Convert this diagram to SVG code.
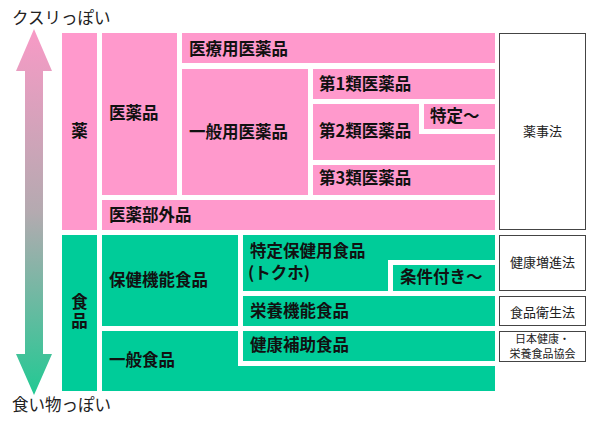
<svg xmlns="http://www.w3.org/2000/svg" width="600" height="421" viewBox="0 0 600 421">
<defs>
<linearGradient id="arrowGrad" x1="0" y1="29" x2="0" y2="395" gradientUnits="userSpaceOnUse">
<stop offset="0" stop-color="#f89ac6"/>
<stop offset="0.5" stop-color="#b4aab0"/>
<stop offset="1" stop-color="#22c993"/>
</linearGradient>
<style>
.pk{fill:#ff99cc}
.gr{fill:#00cc99}
.law{fill:#ffffff;stroke:#444444;stroke-width:1}
.lb{font-family:"Noto Sans CJK JP","Noto Sans",sans-serif;font-weight:bold;font-size:16.5px;fill:#111111;dominant-baseline:central}
.lw{font-family:"Noto Sans CJK JP","Noto Sans",sans-serif;font-size:13px;fill:#222222;dominant-baseline:central;text-anchor:middle}
.ls{font-family:"Noto Sans CJK JP","Noto Sans",sans-serif;font-size:11px;fill:#222222;dominant-baseline:central;text-anchor:middle}
.ax{font-family:"Noto Sans CJK JP","Noto Sans",sans-serif;font-size:16.5px;fill:#222222;dominant-baseline:central}
</style>
</defs>
<rect width="600" height="421" fill="#ffffff"/>
<g id="axis">
<polygon points="34,29 52,71 43,71 43,354 52,354 34,395 16,354 25,354 25,71 16,71" fill="url(#arrowGrad)"/>
<text class="ax" x="12" y="17">クスリっぽい</text>
<text class="ax" x="12" y="404">食い物っぽい</text>
</g>
<g id="kusuri">
<rect class="pk" x="62" y="33" width="35" height="197"/>
<text class="lb" x="79.5" y="130" text-anchor="middle">薬</text>
</g>
<g id="iyakuhin">
<rect class="pk" x="102" y="33" width="75" height="162"/>
<text class="lb" x="109" y="112">医薬品</text>
</g>
<g id="iryoyou">
<rect class="pk" x="182" y="33" width="313" height="30"/>
<text class="lb" x="189" y="47.5">医療用医薬品</text>
</g>
<g id="ippanyou">
<rect class="pk" x="182" y="69" width="126" height="126"/>
<text class="lb" x="189" y="131">一般用医薬品</text>
</g>
<g id="dai1rui">
<rect class="pk" x="313" y="69" width="182" height="30"/>
<text class="lb" x="319" y="83">第1類医薬品</text>
</g>
<g id="dai2rui">
<path class="pk" d="M313,104 H419 V134 H495 V160 H313 Z"/>
<text class="lb" x="319" y="130">第2類医薬品</text>
</g>
<g id="tokutei">
<rect class="pk" x="424" y="104" width="71" height="25"/>
<text class="lb" x="430" y="115">特定～</text>
</g>
<g id="dai3rui">
<rect class="pk" x="313" y="165" width="182" height="30"/>
<text class="lb" x="319" y="177">第3類医薬品</text>
</g>
<g id="iyakubugaihin">
<rect class="pk" x="102" y="200" width="393" height="30"/>
<text class="lb" x="109" y="214">医薬部外品</text>
</g>
<g id="shokuhin">
<rect class="gr" x="62" y="235" width="35" height="156"/>
<text class="lb" x="79.5" y="293.5" writing-mode="vertical-rl" letter-spacing="2.5">食品</text>
</g>
<g id="hokenkinou">
<rect class="gr" x="102" y="235" width="136" height="91"/>
<text class="lb" x="109" y="279">保健機能食品</text>
</g>
<g id="tokuho">
<path class="gr" d="M243,235 H495 V260 H388 V291 H243 Z"/>
<text class="lb"><tspan x="250" y="249.5">特定保健用食品</tspan><tspan x="248" y="271.5">(トクホ)</tspan></text>
</g>
<g id="jouken">
<rect class="gr" x="393" y="265" width="102" height="26"/>
<text class="lb" x="400" y="276">条件付き～</text>
</g>
<g id="eiyoukinou">
<rect class="gr" x="243" y="296" width="252" height="30"/>
<text class="lb" x="250" y="310">栄養機能食品</text>
</g>
<g id="ippanshokuhin">
<path class="gr" d="M102,331 H238 V366 H495 V391 H102 Z"/>
<text class="lb" x="109" y="359">一般食品</text>
</g>
<g id="kenkouhojo">
<rect class="gr" x="243" y="331" width="252" height="30"/>
<text class="lb" x="250" y="344">健康補助食品</text>
</g>
<g id="yakujihou">
<rect class="law" x="499.5" y="33.5" width="86" height="196"/>
<text class="lw" x="542.5" y="130">薬事法</text>
</g>
<g id="kenkouzoushinhou">
<rect class="law" x="499.5" y="235.5" width="86" height="55"/>
<text class="lw" x="542.5" y="261">健康増進法</text>
</g>
<g id="shokuhineiseihou">
<rect class="law" x="499.5" y="296.5" width="86" height="29"/>
<text class="lw" x="542.5" y="311">食品衛生法</text>
</g>
<g id="jhnfa">
<rect class="law" x="499.5" y="331.5" width="86" height="30"/>
<text class="ls"><tspan x="542.5" y="338">日本健康・</tspan><tspan x="542.5" y="353">栄養食品協会</tspan></text>
</g>
<g id="connectors"></g>
</svg>
